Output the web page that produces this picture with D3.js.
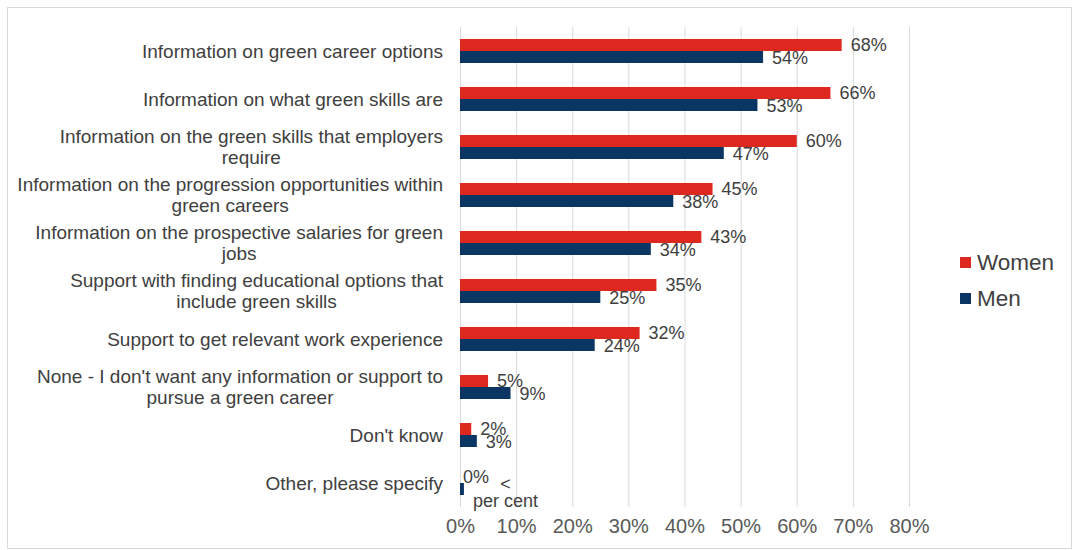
<!DOCTYPE html>
<html><head><meta charset="utf-8">
<script src="https://cdn.jsdelivr.net/npm/d3@7"></script>
<style>html,body{margin:0;padding:0;background:#fff;}svg{display:block;font-family:"Liberation Sans",Arial,sans-serif;}</style>
</head><body>
<svg id="chart" width="1074" height="550"></svg>
<script>
const categories = [
  "Information on green career options",
  "Information on what green skills are",
  "Information on the green skills that employers\nrequire",
  "Information on the progression opportunities within\ngreen careers",
  "Information on the prospective salaries for green\njobs",
  "Support with finding educational options that\ninclude green skills",
  "Support to get relevant work experience",
  "None - I don't want any information or support to\npursue a green career",
  "Don't know",
  "Other, please specify"
];
const women = [68, 66, 60, 45, 43, 35, 32, 5, 2, 0];
const men = [54, 53, 47, 38, 34, 25, 24, 9, 3, 0.7];
const womenLabels = ["68%","66%","60%","45%","43%","35%","32%","5%","2%","0%"];
const menLabels = ["54%","53%","47%","38%","34%","25%","24%","9%","3%","<\nper cent"];
const ticks = [0,10,20,30,40,50,60,70,80];
const seriesNames = ["Women","Men"];
const colors = {Women:"#dc281e", Men:"#0b3663"};

const svg = d3.select("#chart");
svg.append("rect").attr("x",7.5).attr("y",7.5).attr("width",1064).attr("height",541)
  .attr("fill","#fff").attr("stroke","#d9d9d9");

const x = d3.scaleLinear().domain([0,80]).range([460,909]);
const y = d3.scaleBand().domain(categories).range([27,507]).paddingInner(0.5).paddingOuter(0.25);
const sub = d3.scaleBand().domain(seriesNames).range([0,y.bandwidth()]);

// gridlines
svg.append("g").selectAll("line").data(ticks).join("line")
  .attr("x1",d=>x(d)+0.5).attr("x2",d=>x(d)+0.5).attr("y1",27).attr("y2",507)
  .attr("stroke","#d9d9d9").attr("stroke-width",1);

// x axis tick labels
const xAxis = d3.axisBottom(x).tickValues(ticks).tickFormat(d=>d+"%").tickSize(0).tickPadding(0);
const gx = svg.append("g").attr("transform","translate(0,519)").call(xAxis);
gx.select(".domain").remove();
gx.selectAll("text").attr("font-size",20).attr("fill","#595959").attr("font-family","Liberation Sans, Arial, sans-serif");

// category labels (multi-line, block right-aligned, lines centered)
const catG = svg.append("g");
categories.forEach(c=>{
  const lines = c.split("\n");
  const lh = 21;
  const cy = y(c) + y.bandwidth()/2;
  const t = catG.append("text").attr("font-size",19).attr("fill","#404040");
  lines.forEach((ln,i)=>{
    t.append("tspan").text(ln).attr("y", cy + (i-(lines.length-1)/2)*lh).attr("dy","0.35em");
  });
  const ws = t.selectAll("tspan").nodes().map(n=>n.getComputedTextLength());
  const maxW = d3.max(ws);
  t.attr("text-anchor","middle");
  t.selectAll("tspan").attr("x", 443 - maxW/2);
});

// bars
const groups = [
  {name:"Women", vals:women, labels:womenLabels},
  {name:"Men", vals:men, labels:menLabels}
];
groups.forEach(g=>{
  svg.append("g").selectAll("rect").data(categories).join("rect")
    .attr("x",x(0)).attr("y",(c)=>y(c)+sub(g.name))
    .attr("width",(c,i)=>x(g.vals[i])-x(0)).attr("height",sub.bandwidth())
    .attr("fill",colors[g.name]);
});

// value labels
groups.forEach(g=>{
  categories.forEach((c,i)=>{
    const lines = g.labels[i].split("\n");
    const cy = y(c)+sub(g.name)+sub.bandwidth()/2 + (g.name==="Men"?1:0);
    const t = svg.append("text").attr("font-size",18).attr("fill","#404040");
    const lh = 17;
    lines.forEach((ln,k)=>{
      t.append("tspan").text(ln).attr("y", cy + (k-(lines.length-1)/2)*lh + (lines.length>1?2:0)).attr("dy","0.35em");
    });
    const ws = t.selectAll("tspan").nodes().map(n=>n.getComputedTextLength());
    const maxW = d3.max(ws);
    const off = g.vals[i] === 0 ? 3 : 9;
    const x0 = x(g.vals[i]) + off;
    t.attr("text-anchor","middle");
    t.selectAll("tspan").attr("x", x0 + maxW/2);
  });
});

// legend
const lg = svg.append("g");
seriesNames.forEach((s,i)=>{
  const ly = 262 + i*36;
  lg.append("rect").attr("x",960).attr("y",ly-5).attr("width",11).attr("height",11).attr("fill",colors[s]);
  lg.append("text").attr("x",977).attr("y",ly).attr("dy","0.35em").attr("font-size",22.5).attr("fill","#404040").text(s);
});
</script>
</body></html>
